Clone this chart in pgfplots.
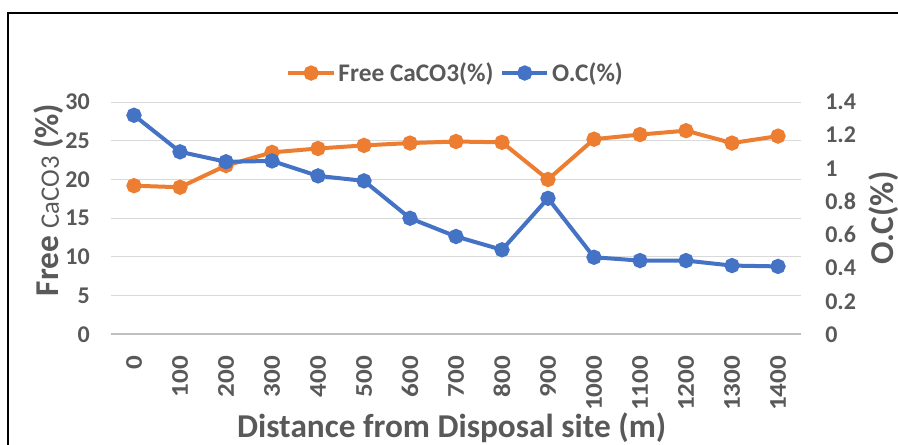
\documentclass[border=0pt]{standalone}
\usepackage{fontspec}
\setmainfont{Carlito}
\usepackage{pgfplots}
\usepackage{pgfplotstable}
\pgfplotsset{compat=1.18}
\definecolor{txt}{HTML}{595959}
\definecolor{gridc}{HTML}{D9D9D9}
\definecolor{axl}{HTML}{BFBFBF}
\definecolor{orng}{HTML}{ED7D31}
\definecolor{blu}{HTML}{4472C4}

\pgfplotstableread{
x c oc
0 19.2 1.32
1 19.0 1.10
2 21.8 1.04
3 23.5 1.045
4 24.0 0.955
5 24.4 0.925
6 24.7 0.70
7 24.9 0.59
8 24.8 0.51
9 20.0 0.82
10 25.2 0.465
11 25.8 0.445
12 26.3 0.445
13 24.7 0.415
14 25.6 0.41
}\data

\begin{document}
\begin{tikzpicture}
\useasboundingbox (-83.25pt,-82.875pt) rectangle (590.25pt,250.875pt);
\draw[line width=1.5pt] (-77.25pt,-120pt) -- (-77.25pt,241.125pt) -- (640pt,241.125pt);
\pgfplotsset{
 base/.style={scale only axis, width=517.5pt, height=174.375pt, at={(0pt,0pt)}, anchor=south west,
   xmin=-0.5, xmax=14.5, ymin=0, major tick length=0pt, axis line style={draw=none},
   /pgf/number format/assume math mode=true,
   tick label style={text=txt, font=\fontsize{18}{20}\selectfont\bfseries}, clip=false},
 ser/.style={line width=3pt, mark=*, mark size=4.2pt, mark options={solid}, color=#1}
}
\begin{axis}[base, ymax=30, ytick={0,5,10,15,20,25,30},
  ymajorgrids, major grid style={draw=gridc, line width=0.75pt},
  xtick=data, xticklabels={0,100,200,300,400,500,600,700,800,900,1000,1100,1200,1300,1400},
  xticklabel style={rotate=90, xscale=1.13, anchor=east, inner sep=0pt}, xticklabel shift=15.9pt,
  yticklabel style={anchor=east, inner sep=0pt}, yticklabel shift=15.75pt,
  legend image code/.code={\draw[mark repeat=2,mark phase=2,#1] plot coordinates {(0pt,0pt) (17pt,0pt) (34pt,0pt)};},
  legend style={at={(0.5,1.1246)}, anchor=center, draw=none, fill=none, legend columns=2,
    font=\fontsize{19}{21}\selectfont\bfseries, text=txt,
    /tikz/every even column/.append style={column sep=3pt}},
  legend cell align=left]
\draw[axl, line width=1.5pt] (axis cs:-0.5,0) -- (axis cs:14.5,0);
\addplot[ser=orng] table[x=x,y=c]{\data};
\addlegendentry{Free CaCO3(\%)}
\addlegendimage{ser=blu}
\addlegendentry{O.C(\%)}
\end{axis}
\begin{axis}[base, ymax=1.4, ytick={0,0.2,0.4,0.6,0.8,1,1.2,1.4}, xtick=\empty,
  yticklabel pos=right, yticklabel style={anchor=west, inner sep=0pt}, yticklabel shift=18pt]
\addplot[ser=blu] table[x=x,y=oc]{\data};
\end{axis}
\node[text=txt, font=\fontsize{25}{29}\selectfont\bfseries] at (255.5pt,-70.1pt) {Distance from Disposal site (m)};
\node[text=txt, rotate=90, font=\fontsize{25}{29}\selectfont\bfseries] at (-46.5pt,100.9pt) {Free {\mdseries\fontsize{20}{23}\selectfont CaCO3} (\%)};
\node[text=txt, rotate=90, font=\fontsize{25}{29}\selectfont\bfseries] at (579.75pt,87.4pt) {O.C(\%)};
\end{tikzpicture}
\end{document}
